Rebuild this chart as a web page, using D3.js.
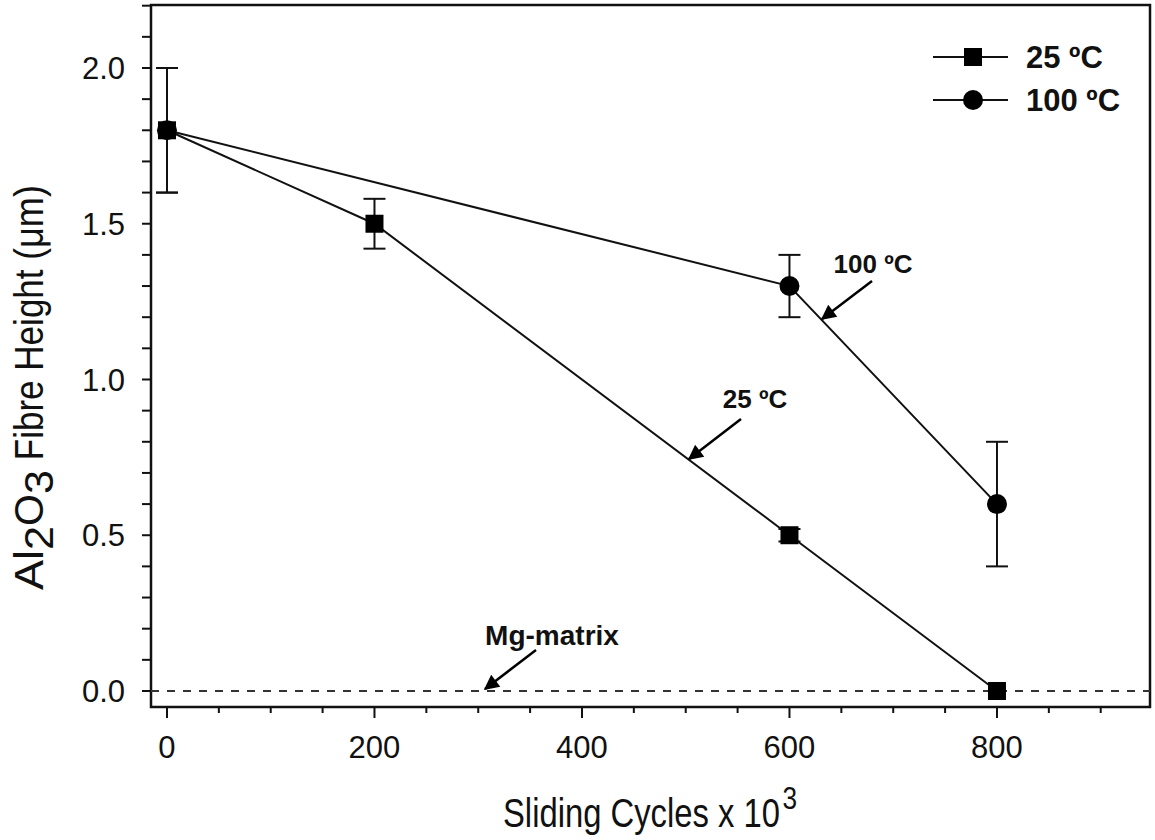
<!DOCTYPE html>
<html><head><meta charset="utf-8">
<script src="https://cdn.jsdelivr.net/npm/d3@7/dist/d3.min.js"></script>
<style>body{margin:0;background:#fff}svg{display:block}text{font-family:"Liberation Sans",Arial,sans-serif}</style>
</head><body>
<svg id="c" width="1155" height="840"></svg>
<script>
const cycles25 = [0, 200, 600, 800];
const height25 = [1.8, 1.5, 0.5, 0.0];
const err25 = [0.2, 0.08, 0.02, 0];
const cycles100 = [0, 600, 800];
const height100 = [1.8, 1.3, 0.6];
const err100 = [0.2, 0.1, 0.2];
const xTicks = [0, 200, 400, 600, 800];
const yTicks = [0.0, 0.5, 1.0, 1.5, 2.0];
const seriesNames = ["25 ºC", "100 ºC"];

const svg = d3.select("#c");
const L = 151, R = 1150, T = 5, B = 707;
const x = d3.scaleLinear().domain([-15.4, 947.5]).range([L, R]);
const y = d3.scaleLinear().domain([-0.0514, 2.2022]).range([B, T]);

// frame
svg.append("rect").attr("x", L).attr("y", T).attr("width", R - L).attr("height", B - T)
  .attr("fill", "none").attr("stroke", "#111").attr("stroke-width", 2.5);

// y axis
const yMinor = d3.range(0, 2.21, 0.1);
const ax = svg.append("g").attr("transform", `translate(${L},0)`);
ax.selectAll(".ym").data(yMinor).join("line")
  .attr("x1", -9).attr("x2", 0).attr("y1", d => y(d)).attr("y2", d => y(d))
  .attr("stroke", "#111").attr("stroke-width", 2);
ax.selectAll(".yl").data(yTicks).join("text")
  .attr("x", -26).attr("y", d => y(d)).attr("dy", "0.36em").attr("text-anchor", "end")
  .attr("font-size", 31).attr("fill", "#111").text(d => d3.format(".1f")(d));

// x axis
const xMinor = d3.range(0, 901, 50);
const bx = svg.append("g").attr("transform", `translate(0,${B})`);
bx.selectAll(".xm").data(xMinor).join("line")
  .attr("x1", d => x(d)).attr("x2", d => x(d)).attr("y1", 0).attr("y2", d => d % 200 === 0 ? 11 : 6)
  .attr("stroke", "#111").attr("stroke-width", 2);
bx.selectAll(".xl").data(xTicks).join("text")
  .attr("x", d => x(d)).attr("y", 51).attr("text-anchor", "middle")
  .attr("font-size", 31).attr("fill", "#111").text(d => d);

// axis titles (narrow-looking text: horizontally scaled)
const xg = svg.append("g").attr("transform", "translate(503,827) scale(0.82,1)");
const xMain = xg.append("text").attr("x", 0).attr("y", 0).attr("font-size", 40).attr("fill", "#111")
  .text("Sliding Cycles x 10");
const mainW = xMain.node().getComputedTextLength();
xg.append("text").attr("x", mainW + 3).attr("y", -18).attr("font-size", 32).attr("fill", "#111").text("3");

const yt = svg.append("text").attr("transform", "translate(43,590) rotate(-90)")
  .attr("font-size", 40).attr("fill", "#111");
const ySegs = [["Al", 0, 40], ["2", 10, 24], ["O", -10, 32], ["3", 10, 24], [" Fibre Height (", -10, 222], ["μm)", 0, 63]];
ySegs.forEach(s => yt.append("tspan").attr("dy", s[1]).attr("textLength", s[2])
  .attr("lengthAdjust", "spacingAndGlyphs").text(s[0]));

// dashed Mg-matrix line
svg.append("line").attr("x1", L).attr("x2", R).attr("y1", y(0)).attr("y2", y(0))
  .attr("stroke", "#333").attr("stroke-width", 2).attr("stroke-dasharray", "8,8");

const line = d3.line().x(d => x(d[0])).y(d => y(d[1]));
const d25 = cycles25.map((c, i) => [c, height25[i], err25[i]]);
const d100 = cycles100.map((c, i) => [c, height100[i], err100[i]]);

function errbars(data) {
  const g = svg.append("g").attr("stroke", "#111").attr("stroke-width", 2);
  data.filter(d => d[2] > 0).forEach(d => {
    g.append("line").attr("x1", x(d[0])).attr("x2", x(d[0])).attr("y1", y(d[1] - d[2])).attr("y2", y(d[1] + d[2]));
    [d[1] - d[2], d[1] + d[2]].forEach(v => g.append("line")
      .attr("x1", x(d[0]) - 11).attr("x2", x(d[0]) + 11).attr("y1", y(v)).attr("y2", y(v)));
  });
}
errbars(d100); errbars(d25);

svg.append("path").attr("d", line(d100)).attr("fill", "none").attr("stroke", "#111").attr("stroke-width", 2);
svg.append("path").attr("d", line(d25)).attr("fill", "none").attr("stroke", "#111").attr("stroke-width", 2);

svg.selectAll(".c100").data(d100).join("circle")
  .attr("cx", d => x(d[0])).attr("cy", d => y(d[1])).attr("r", 10).attr("fill", "#000");
svg.selectAll(".s25").data(d25).join("rect")
  .attr("x", d => x(d[0]) - 9).attr("y", d => y(d[1]) - 9).attr("width", 18).attr("height", 18).attr("fill", "#000");

// legend
const lg = svg.append("g");
[[57, "sq"], [100, "ci"]].forEach((r, i) => {
  lg.append("line").attr("x1", 933).attr("x2", 1008).attr("y1", r[0]).attr("y2", r[0]).attr("stroke", "#111").attr("stroke-width", 2);
  if (r[1] === "sq") lg.append("rect").attr("x", 964).attr("y", r[0] - 9).attr("width", 18).attr("height", 18).attr("fill", "#000");
  else lg.append("circle").attr("cx", 973).attr("cy", r[0]).attr("r", 10).attr("fill", "#000");
  lg.append("text").attr("x", 1026).attr("y", r[0]).attr("dy", "0.36em").attr("font-size", 31)
    .attr("font-weight", "bold").attr("fill", "#111").text(seriesNames[i]);
});

// annotations
svg.append("defs").append("marker").attr("id", "ah").attr("viewBox", "0 0 10 10")
  .attr("refX", 9).attr("refY", 5).attr("markerWidth", 18).attr("markerHeight", 15)
  .attr("markerUnits", "userSpaceOnUse").attr("orient", "auto")
  .append("path").attr("d", "M0,0 L10,5 L0,10 z").attr("fill", "#000");

const notes = [
  {t: "100 ºC", tx: 873, ty: 273, fs: 26, x1: 872, y1: 281, x2: 822, y2: 319},
  {t: "25 ºC", tx: 755, ty: 408, fs: 26, x1: 741, y1: 419, x2: 689, y2: 459},
  {t: "Mg-matrix", tx: 552, ty: 645, fs: 28, x1: 536, y1: 650, x2: 485, y2: 689}
];
notes.forEach(n => {
  svg.append("text").attr("x", n.tx).attr("y", n.ty).attr("text-anchor", "middle")
    .attr("font-size", n.fs).attr("font-weight", "bold").attr("fill", "#111").text(n.t);
  svg.append("line").attr("x1", n.x1).attr("y1", n.y1).attr("x2", n.x2).attr("y2", n.y2)
    .attr("stroke", "#000").attr("stroke-width", 2.5).attr("marker-end", "url(#ah)");
});
</script>
</body></html>
